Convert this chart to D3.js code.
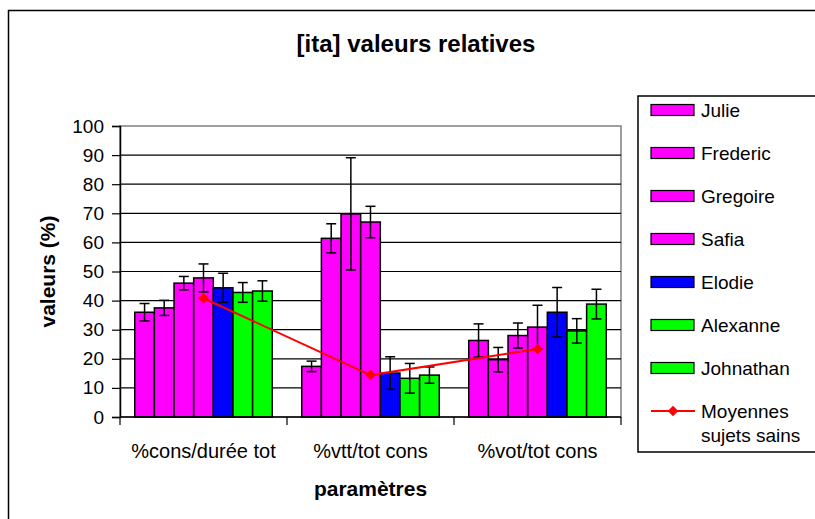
<!DOCTYPE html>
<html>
<head>
<meta charset="UTF-8">
<title>[ita] valeurs relatives</title>
<script src="https://d3js.org/d3.v7.min.js"></script>
<style>
  body { margin: 0; background: #fff; }
  text { font-family: "Liberation Sans", Arial, sans-serif; fill: #000; }
</style>
</head>
<body>
<svg id="chart" width="815" height="519"></svg>
<script>
// categories and series
const categories = ["%cons/durée tot", "%vtt/tot cons", "%vot/tot cons"];
const subjects = ["Julie", "Frederic", "Gregoire", "Safia", "Elodie", "Alexanne", "Johnathan"];
const subjectColors = ["#ff00ff", "#ff00ff", "#ff00ff", "#ff00ff", "#0000ff", "#00ff00", "#00ff00"];

const julie     = [36.0, 17.4, 26.3];
const frederic  = [37.5, 61.4, 19.7];
const gregoire  = [46.0, 69.8, 28.0];
const safia     = [47.8, 67.0, 30.9];
const elodie    = [44.4, 15.1, 36.0];
const alexanne  = [42.8, 13.3, 29.6];
const johnathan = [43.3, 14.4, 38.8];

const julieErr     = [3.0, 1.8, 5.7];
const fredericErr  = [2.6, 5.0, 4.2];
const gregoireErr  = [2.3, 19.3, 4.3];
const safiaErr     = [4.8, 5.4, 7.5];
const elodieErr    = [5.0, 5.6, 8.5];
const alexanneErr  = [3.4, 5.1, 4.2];
const johnathanErr = [3.5, 2.8, 5.1];

const moyennes = [40.8, 14.4, 23.4];
const yTicks = [0, 10, 20, 30, 40, 50, 60, 70, 80, 90, 100];

const values = [julie, frederic, gregoire, safia, elodie, alexanne, johnathan];
const errors = [julieErr, fredericErr, gregoireErr, safiaErr, elodieErr, alexanneErr, johnathanErr];

const svg = d3.select("#chart");

// plot area
const pLeft = 120, pRight = 621, pTop = 126, pBottom = 417;

const x0 = d3.scaleBand().domain(categories).range([pLeft, pRight]);
const bw = x0.bandwidth();
const gap = bw * 0.75 / 8.5;
const x1 = d3.scaleBand().domain(subjects).range([gap, bw - gap]);
const y = d3.scaleLinear().domain([0, 100]).range([pBottom, pTop]);

// outer chart border
svg.append("rect")
    .attr("x", 8.5).attr("y", 10.5)
    .attr("width", 830).attr("height", 530)
    .attr("fill", "#fff").attr("stroke", "#000").attr("stroke-width", 1.5);

// title
svg.append("text")
    .attr("x", 416).attr("y", 52)
    .attr("text-anchor", "middle")
    .style("font-size", "24px").style("font-weight", "bold")
    .text("[ita] valeurs relatives");

// plot area border (gray)
svg.append("rect")
    .attr("x", pLeft).attr("y", pTop)
    .attr("width", pRight - pLeft).attr("height", pBottom - pTop)
    .attr("fill", "#fff").attr("stroke", "#808080").attr("stroke-width", 1.5);

// gridlines
svg.append("g")
  .selectAll("line")
  .data(yTicks.filter(d => d > 0 && d < 100))
  .enter().append("line")
    .attr("x1", pLeft).attr("x2", pRight)
    .attr("y1", d => y(d)).attr("y2", d => y(d))
    .attr("stroke", "#000").attr("stroke-width", 1.2);

// bars
const groups = svg.append("g")
  .selectAll("g")
  .data(categories)
  .enter().append("g")
    .attr("transform", d => `translate(${x0(d)},0)`);

groups.selectAll("rect")
  .data((c, ci) => subjects.map((s, si) => ({ s: s, si: si, v: values[si][ci], e: errors[si][ci] })))
  .enter().append("rect")
    .attr("x", d => x1(d.s))
    .attr("y", d => y(d.v))
    .attr("width", x1.bandwidth())
    .attr("height", d => y(0) - y(d.v))
    .attr("fill", d => subjectColors[d.si])
    .attr("stroke", "#000").attr("stroke-width", 1.5);

// error bars
const eb = groups.selectAll("g.err")
  .data((c, ci) => subjects.map((s, si) => ({ s: s, v: values[si][ci], e: errors[si][ci] })))
  .enter().append("g").attr("class", "err")
    .attr("stroke", "#000").attr("stroke-width", 1.5);

eb.append("line")
    .attr("x1", d => x1(d.s) + x1.bandwidth() / 2)
    .attr("x2", d => x1(d.s) + x1.bandwidth() / 2)
    .attr("y1", d => y(d.v + d.e))
    .attr("y2", d => y(d.v - d.e));
eb.append("line")
    .attr("x1", d => x1(d.s) + x1.bandwidth() / 2 - 5)
    .attr("x2", d => x1(d.s) + x1.bandwidth() / 2 + 5)
    .attr("y1", d => y(d.v + d.e)).attr("y2", d => y(d.v + d.e));
eb.append("line")
    .attr("x1", d => x1(d.s) + x1.bandwidth() / 2 - 5)
    .attr("x2", d => x1(d.s) + x1.bandwidth() / 2 + 5)
    .attr("y1", d => y(d.v - d.e)).attr("y2", d => y(d.v - d.e));

// axes
const yAxis = svg.append("g")
    .attr("transform", `translate(${pLeft},0)`)
    .call(d3.axisLeft(y).tickValues(yTicks).tickSize(8).tickPadding(8));
yAxis.select(".domain").attr("stroke", "#000").attr("stroke-width", 1.5);
yAxis.selectAll(".tick line").attr("stroke", "#000").attr("stroke-width", 1.2);
yAxis.selectAll(".tick text")
    .style("font-size", "19px")
    .attr("font-family", null);

const xAxis = svg.append("g")
    .attr("transform", `translate(0,${pBottom})`)
    .call(d3.axisBottom(x0).tickSize(0).tickPadding(27));
xAxis.select(".domain").attr("stroke", "#000").attr("stroke-width", 1.5)
    .attr("d", `M${pLeft},0H${pRight}`);
xAxis.selectAll(".tick text")
    .style("font-size", "20px")
    .attr("font-family", null);
// category boundary ticks
svg.append("g")
  .selectAll("line")
  .data(categories.concat(["end"]))
  .enter().append("line")
    .attr("x1", (d, i) => pLeft + i * bw).attr("x2", (d, i) => pLeft + i * bw)
    .attr("y1", pBottom).attr("y2", pBottom + 8)
    .attr("stroke", "#000").attr("stroke-width", 1.2);

// axis titles
svg.append("text")
    .attr("transform", `translate(55,${(pTop + pBottom) / 2}) rotate(-90)`)
    .attr("text-anchor", "middle")
    .style("font-size", "21px").style("font-weight", "bold")
    .text("valeurs (%)");

svg.append("text")
    .attr("x", (pLeft + pRight) / 2).attr("y", 496)
    .attr("text-anchor", "middle")
    .style("font-size", "21px").style("font-weight", "bold")
    .text("paramètres");

// mean line
const diamond = d3.symbol().type(d3.symbolSquare).size(55);
const line = d3.line()
    .x((d, i) => x0(categories[i]) + bw / 2)
    .y(d => y(d));

svg.append("path")
    .datum(moyennes)
    .attr("d", line)
    .attr("fill", "none").attr("stroke", "#ff0000").attr("stroke-width", 2);

svg.append("g")
  .selectAll("path")
  .data(moyennes)
  .enter().append("path")
    .attr("d", diamond)
    .attr("transform", (d, i) => `translate(${x0(categories[i]) + bw / 2},${y(d)}) rotate(45)`)
    .attr("fill", "#ff0000");

// legend
const legend = svg.append("g");
legend.append("rect")
    .attr("x", 638).attr("y", 96)
    .attr("width", 200).attr("height", 356)
    .attr("fill", "#fff").attr("stroke", "#000").attr("stroke-width", 1.5);

const legY = d3.scaleLinear().domain([0, 7]).range([110, 411]);

const li = legend.selectAll("g.item")
  .data(subjects)
  .enter().append("g").attr("class", "item")
    .attr("transform", (d, i) => `translate(0,${legY(i)})`);
li.append("rect")
    .attr("x", 651).attr("y", -5.5)
    .attr("width", 43).attr("height", 11)
    .attr("fill", (d, i) => subjectColors[i])
    .attr("stroke", "#000").attr("stroke-width", 1.2);
li.append("text")
    .attr("x", 701).attr("dy", "0.35em")
    .style("font-size", "19px")
    .text(d => d);

const lm = legend.append("g").attr("transform", `translate(0,${legY(7)})`);
lm.append("line")
    .attr("x1", 651).attr("x2", 695)
    .attr("stroke", "#ff0000").attr("stroke-width", 2);
lm.append("path")
    .attr("d", diamond)
    .attr("transform", "translate(673,0) rotate(45)")
    .attr("fill", "#ff0000");
lm.append("text")
    .attr("x", 701).attr("dy", "0.35em")
    .style("font-size", "19px")
    .text("Moyennes");
lm.append("text")
    .attr("x", 701).attr("y", 24).attr("dy", "0.35em")
    .style("font-size", "19px")
    .text("sujets sains");
</script>
</body>
</html>
